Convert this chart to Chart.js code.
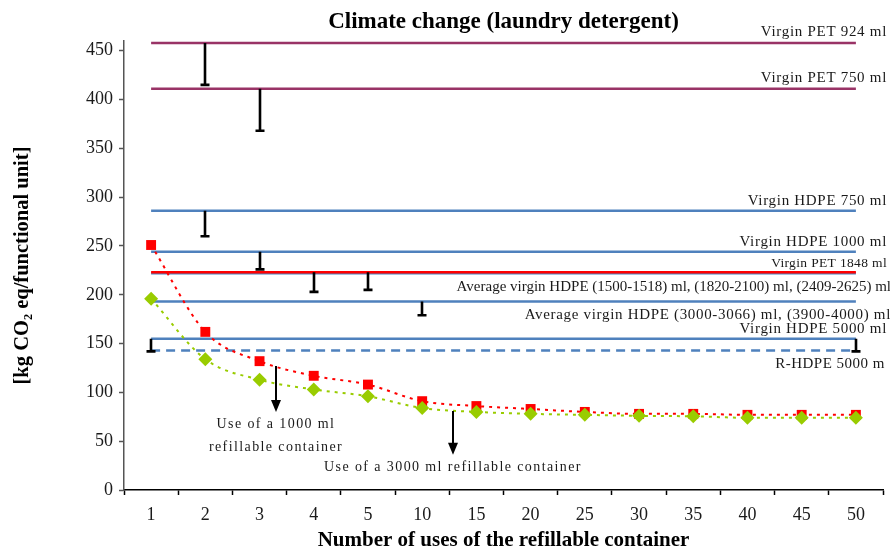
<!DOCTYPE html>
<html>
<head>
<meta charset="utf-8">
<script src="https://cdn.jsdelivr.net/npm/chart.js@4.4.1/dist/chart.umd.min.js"></script>
<style>
  html, body { margin: 0; padding: 0; background: #fff; }
  #wrap { width: 890px; height: 555px; }
</style>
</head>
<body>
<div id="wrap"><canvas id="chart"></canvas></div>
<script>
// number of uses of the refillable container
const CATEGORIES = ['1', '2', '3', '4', '5', '10', '15', '20', '25', '30', '35', '40', '45', '50'];

// refillable containers (kg CO2 eq / functional unit)
const SERIES_1000 = [251, 162, 132, 117, 108, 91, 86, 83, 80, 78, 78, 77, 77, 77];
const SERIES_3000 = [196, 134, 113, 103, 96, 84, 80, 78, 77, 76, 75.5, 74, 74, 74];

// single-use reference containers
const REF_LABELS = [
    'Virgin PET 924 ml',
    'Virgin PET 750 ml',
    'Virgin HDPE 750 ml',
    'Virgin HDPE 1000 ml',
    'Virgin PET 1848 ml',
    'Average virgin HDPE (1500-1518) ml, (1820-2100) ml, (2409-2625) ml',
    'Average virgin HDPE (3000-3066) ml, (3900-4000) ml',
    'Virgin HDPE 5000 ml',
    'R-HDPE 5000 m',
];
const REF_VALUES = [458, 411, 286, 244, 223, 222, 193, 155, 143];

// ranges drawn as whiskers under the reference lines
const RANGE_CATS = ['2', '3', '2', '3', '4', '5', '10', '1', '50'];
const RANGE_HIGH = [458, 411, 286, 244, 223, 223, 193, 155, 155];
const RANGE_LOW = [415, 368, 260, 226, 203, 205, 179, 142, 142];

// annotations: arrow position as fractional category index
const NOTE_TEXTS = [['Use of a 1000 ml', 'refillable container'], ['Use of a 3000 ml refillable container']];
const NOTE_AT = [2.3, 5.56];
const NOTE_FROM = [127, 81];
const NOTE_TO = [80, 36];

const FONT = "'Liberation Serif', 'Times New Roman', serif";
const PURPLE = '#993366';
const BLUE = '#4f81bd';
const RED = '#ff0000';
const GREEN = '#99cc00';

const REF_COLORS = [PURPLE, PURPLE, BLUE, BLUE, RED, BLUE, BLUE, BLUE, BLUE];
const REF_ORDER = [3, 3, 3, 3, 2, 4, 3, 3, 3];

// label styling: font size, letter spacing, vertical offset from the line, right edge
const LABEL_STYLE = [
    { size: 15, spacing: 0.7, dy: -11, right: 887 },
    { size: 15, spacing: 0.7, dy: -11, right: 887 },
    { size: 15, spacing: 0.7, dy: -10, right: 887 },
    { size: 15, spacing: 0.7, dy: -10, right: 887 },
    { size: 13.5, spacing: 0.35, dy: -9, right: 887 },
    { size: 15, spacing: 0, dy: 14, right: 891 },
    { size: 15, spacing: 0.68, dy: 13, right: 891 },
    { size: 15, spacing: 0.7, dy: -10, right: 887 },
    { size: 15, spacing: 0.5, dy: 14, right: 885 },
];

const refDatasets = REF_VALUES.map((value, i) => ({
    label: REF_LABELS[i],
    data: [
        { x: CATEGORIES[0], y: value },
        { x: CATEGORIES[CATEGORIES.length - 1], y: value },
    ],
    borderColor: REF_COLORS[i],
    borderWidth: 2.5,
    borderDash: i === REF_VALUES.length - 1 ? [9, 6] : [],
    pointRadius: 0,
    order: REF_ORDER[i],
}));

const overlayPlugin = {
    id: 'overlay',
    afterDatasetsDraw(chart) {
        const { ctx, scales: { x, y } } = chart;
        ctx.save();

        // whiskers
        ctx.strokeStyle = '#000';
        ctx.lineWidth = 2.6;
        RANGE_CATS.forEach((cat, i) => {
            const px = Math.round(x.getPixelForValue(CATEGORIES.indexOf(cat)));
            const top = y.getPixelForValue(RANGE_HIGH[i]);
            const bottom = y.getPixelForValue(RANGE_LOW[i]);
            ctx.beginPath();
            ctx.moveTo(px, top);
            ctx.lineTo(px, bottom);
            ctx.moveTo(px - 4.5, bottom);
            ctx.lineTo(px + 4.5, bottom);
            ctx.stroke();
        });

        // reference labels
        ctx.fillStyle = '#1a1a1a';
        ctx.textAlign = 'right';
        ctx.textBaseline = 'middle';
        REF_LABELS.forEach((text, i) => {
            const st = LABEL_STYLE[i];
            ctx.font = `${st.size}px ${FONT}`;
            ctx.letterSpacing = `${st.spacing}px`;
            ctx.fillText(text, st.right, y.getPixelForValue(REF_VALUES[i]) + st.dy);
        });

        // arrows and notes
        ctx.letterSpacing = '1.4px';
        ctx.font = `14px ${FONT}`;
        ctx.textAlign = 'center';
        NOTE_AT.forEach((at, i) => {
            const px = Math.round(x.getPixelForValue(at));
            const top = y.getPixelForValue(NOTE_FROM[i]);
            const tip = y.getPixelForValue(NOTE_TO[i]);
            ctx.strokeStyle = '#000';
            ctx.lineWidth = 2;
            ctx.beginPath();
            ctx.moveTo(px, top);
            ctx.lineTo(px, tip - 10);
            ctx.stroke();
            ctx.fillStyle = '#000';
            ctx.beginPath();
            ctx.moveTo(px - 5, tip - 12);
            ctx.lineTo(px + 5, tip - 12);
            ctx.lineTo(px, tip);
            ctx.closePath();
            ctx.fill();
            ctx.fillStyle = '#1a1a1a';
            NOTE_TEXTS[i].forEach((line, k) => {
                ctx.fillText(line, px, tip + 12 + k * 23.5);
            });
        });

        ctx.restore();
    },
};

new Chart(document.getElementById('chart'), {
    type: 'line',
    data: {
        labels: CATEGORIES,
        datasets: [
            {
                label: 'Refillable 3000 ml',
                data: SERIES_3000,
                borderColor: GREEN,
                backgroundColor: GREEN,
                borderWidth: 2,
                borderDash: [3, 5],
                cubicInterpolationMode: 'monotone',
                pointStyle: 'rectRot',
                pointRadius: 7,
                pointBorderWidth: 0,
                order: 0,
            },
            {
                label: 'Refillable 1000 ml',
                data: SERIES_1000,
                borderColor: RED,
                backgroundColor: RED,
                borderWidth: 2,
                borderDash: [3, 5],
                cubicInterpolationMode: 'monotone',
                pointStyle: 'rect',
                pointRadius: 7,
                pointBorderWidth: 0,
                order: 1,
            },
            ...refDatasets,
        ],
    },
    options: {
        responsive: true,
        maintainAspectRatio: false,
        animation: false,
        layout: { padding: { left: 0, right: 6, top: 0, bottom: 0 } },
        scales: {
            x: {
                offset: true,
                afterFit: (scale) => { scale.height = 65; },
                border: { color: '#000', width: 1.5 },
                grid: { offset: true, drawOnChartArea: false, tickLength: 5, color: '#000', tickWidth: 1.5 },
                ticks: { color: '#1a1a1a', padding: 9, font: { family: FONT, size: 18 } },
                title: {
                    display: true,
                    text: 'Number of uses of the refillable container',
                    color: '#000',
                    padding: { top: 0, bottom: 1.5 },
                    font: { family: FONT, size: 21, weight: 'bold' },
                },
            },
            y: {
                min: 0,
                max: 460,
                afterFit: (scale) => { scale.width = 124; },
                border: { color: '#555', width: 1.5 },
                grid: { drawOnChartArea: false, tickLength: 5, color: '#555', tickWidth: 1.5 },
                ticks: { stepSize: 50, includeBounds: false, color: '#1a1a1a', padding: 6, font: { family: FONT, size: 18 } },
                title: {
                    display: true,
                    text: '[kg CO\u2082 eq/functional unit]',
                    color: '#000',
                    padding: { top: 10, bottom: 0 },
                    font: { family: FONT, size: 20.5, weight: 'bold' },
                },
            },
        },
        plugins: {
            legend: { display: false },
            tooltip: { enabled: false },
            title: {
                display: true,
                fullSize: false,
                text: 'Climate change (laundry detergent)',
                color: '#000',
                padding: { top: 8, bottom: 5.4 },
                font: { family: FONT, size: 23, weight: 'bold' },
            },
        },
    },
    plugins: [overlayPlugin],
});
</script>
</body>
</html>
